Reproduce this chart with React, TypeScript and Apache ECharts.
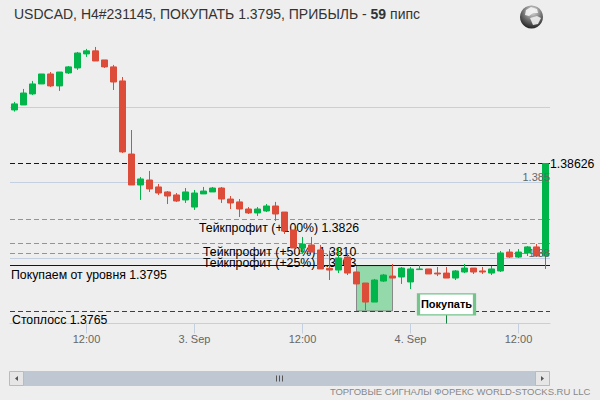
import React, { useEffect, useRef } from "react";
import * as echarts from "echarts";

const hours = Array.from({ length: 60 }, (_, i) => String(i));
const tickLabels: Record<number, string> = { 8: "12:00", 20: "3. Sep", 32: "12:00", 44: "4. Sep", 56: "12:00" };

const opens = [1.38981,1.39014,1.39087,1.39153,1.39219,1.3914,1.39226,1.39259,1.39352,1.39372,1.39312,1.39266,1.39173,1.38689,1.38484,1.38517,1.38471,1.38438,1.38418,1.38385,1.38338,1.38425,1.38438,1.38464,1.38391,1.38372,1.38325,1.38299,1.38312,1.38345,1.38305,1.38186,1.38067,1.38087,1.38054,1.37932,1.37921,1.38007,1.37908,1.37835,1.37709,1.37848,1.37881,1.37875,1.37842,1.37924,1.37928,1.37901,1.37901,1.37868,1.37908,1.37934,1.37915,1.37901,1.37915,1.3804,1.38007,1.38034,1.38074,1.38014];
const closes = [1.39021,1.39093,1.39153,1.39219,1.3914,1.39232,1.39266,1.39358,1.39372,1.39305,1.39266,1.39166,1.38703,1.38484,1.38524,1.38458,1.38431,1.38411,1.38378,1.38438,1.38431,1.38444,1.38464,1.38391,1.38365,1.38325,1.38299,1.38325,1.38345,1.38292,1.38179,1.38067,1.38093,1.3804,1.37928,1.37921,1.38001,1.37901,1.37829,1.37709,1.37855,1.37888,1.37868,1.37934,1.37928,1.37928,1.37895,1.37895,1.37868,1.37915,1.37934,1.37908,1.37908,1.37928,1.38034,1.38007,1.3804,1.38074,1.38014,1.38626];
const lows = [1.3897,1.39014,1.3908,1.39153,1.39133,1.39107,1.39219,1.39246,1.39332,1.39305,1.39259,1.39113,1.38696,1.38484,1.38385,1.38438,1.38418,1.38358,1.38372,1.38365,1.38319,1.38425,1.38438,1.38365,1.38325,1.38272,1.38292,1.38279,1.38305,1.38246,1.3816,1.38067,1.38027,1.3804,1.37928,1.37855,1.37901,1.37888,1.37829,1.37656,1.37709,1.37842,1.37868,1.37829,1.37795,1.37924,1.37895,1.37881,1.37868,1.37855,1.37901,1.37895,1.37895,1.37888,1.37908,1.38001,1.38001,1.38014,1.38014,1.37928];
const highs = [1.39034,1.3912,1.39173,1.39219,1.39232,1.39232,1.39272,1.39365,1.39385,1.39398,1.39312,1.39279,1.39199,1.38848,1.38537,1.38577,1.38491,1.38444,1.38431,1.38464,1.38451,1.38471,1.38471,1.38471,1.38411,1.38391,1.38338,1.38338,1.38358,1.38372,1.38305,1.38186,1.3814,1.3814,1.38087,1.3805,1.38067,1.38034,1.37908,1.37835,1.37862,1.37895,1.37961,1.37941,1.37941,1.37954,1.37928,1.37941,1.37941,1.37921,1.37961,1.37934,1.37941,1.37948,1.38047,1.3806,1.3806,1.3808,1.38093,1.38626];

const currentPrice = 1.38626;
const entryPrice = 1.3795;
const stopPrice = 1.3765;
const takeProfits = [
  { name: "Тейкпрофит (+100%) 1.3826", value: 1.3826, pad: 188 },
  { name: "Тейкпрофит (+50%) 1.3810", value: 1.381, pad: 192 },
  { name: "Тейкпрофит (+25%) 1.3803", value: 1.3803, pad: 192 },
];
const axisMin = 1.37567;
const axisMax = 1.39444;
const flagValue = 1.37693;
const FONT = "'Liberation Sans', Arial, sans-serif";
const BG = "#eeeeee";
const UP = "#00b64a";
const DOWN = "#dd4b39";
const GRID = "#c4d0df";

export default function App() {
  const ref = useRef<HTMLDivElement>(null);
  useEffect(() => {
    const chart = echarts.init(ref.current!, null, { renderer: "svg" });
    const candles = hours.map((_, i) => [opens[i], closes[i], lows[i], highs[i]]);
    const noteLabel = (text: string, pad: number) => ({
      show: true,
      position: "insideStartBottom",
      distance: [1, 3],
      formatter: text,
      color: "#000",
      fontFamily: FONT,
      fontSize: 12.3,
      padding: [0, 0, 0, pad],
    });
    const tpLines = takeProfits.map((t) => ({
      yAxis: t.value,
      lineStyle: { color: "#7ab81e", type: [5, 3], width: 1 },
      label: noteLabel(t.name, t.pad),
    }));
    chart.setOption({
      animation: false,
      backgroundColor: BG,
      textStyle: { fontFamily: FONT },
      title: {
        left: 9,
        top: 2,
        text: "USDCAD, H4#231145, ПОКУПАТЬ 1.3795, ПРИБЫЛЬ - {b|59} пипс",
        textStyle: {
          fontFamily: FONT,
          fontSize: 14,
          fontWeight: "normal",
          color: "#333",
          rich: { b: { fontFamily: FONT, fontSize: 14, fontWeight: "bold", color: "#333" } },
        },
      },
      grid: { left: 10, right: 50, top: 40, bottom: 76.5, containLabel: false },
      xAxis: {
        type: "category",
        data: hours,
        boundaryGap: true,
        axisLine: { lineStyle: { color: GRID, width: 1 } },
        axisTick: {
          show: true,
          length: 10,
          alignWithLabel: true,
          interval: (i: number) => tickLabels[i] !== undefined,
          lineStyle: { color: GRID },
        },
        axisLabel: {
          interval: (i: number) => tickLabels[i] !== undefined,
          formatter: (_: string, i: number) => tickLabels[i] ?? "",
          color: "#666",
          fontSize: 11,
          fontFamily: FONT,
          margin: 10,
          hideOverlap: false,
        },
        splitLine: { show: false },
      },
      yAxis: [
        {
          type: "value",
          min: axisMin,
          max: axisMax,
          splitNumber: 3,
          position: "right",
          axisLine: { show: false },
          axisTick: { show: false },
          axisLabel: { show: false },
          splitLine: { show: true, showMinLine: false, showMaxLine: false, lineStyle: { color: GRID, width: 1 } },
        },
        {
          type: "value",
          min: axisMin,
          max: axisMax,
          splitNumber: 3,
          position: "right",
          z: 10,
          axisLine: { show: false },
          axisTick: { show: false },
          splitLine: { show: false },
          axisLabel: {
            inside: true,
            margin: 0,
            showMinLabel: false,
            showMaxLabel: false,
            verticalAlign: "bottom",
            color: "#666",
            fontSize: 11,
            fontFamily: FONT,
            formatter: (v: number) => (v < 1.387 ? String(Math.round(v * 1000) / 1000) : ""),
          },
        },
      ],
      series: [
        {
          type: "line",
          z: 1,
          silent: true,
          data: [],
          markArea: {
            silent: true,
            itemStyle: { color: "#93d9a9", borderColor: "#888", borderWidth: 1 },
            data: [[{ xAxis: 38, yAxis: entryPrice }, { xAxis: 42, yAxis: stopPrice }]],
          },
          markLine: {
            silent: true,
            symbol: "none",
            precision: 5,
            data: [
              ...tpLines,
              {
                yAxis: currentPrice,
                lineStyle: { color: "#0000cc", type: [5, 3], width: 1 },
                label: {
                  show: true,
                  position: "end",
                  distance: 0,
                  formatter: "1.38626",
                  color: "#000",
                  fontSize: 12.3,
                  fontFamily: FONT,
                },
              },
              {
                yAxis: entryPrice,
                lineStyle: { color: "#0000c0", type: "solid", width: 1 },
                label: noteLabel("Покупаем от уровня 1.3795", 0),
              },
              {
                yAxis: stopPrice,
                lineStyle: { color: "#d40000", type: [5, 3], width: 1 },
                label: noteLabel("Стоплосс 1.3765", 1),
              },
              [
                { coord: [48, flagValue], lineStyle: { color: "#14803f", type: "solid", width: 1 }, label: { show: false } },
                { coord: [48, axisMin] },
              ],
            ],
          },
        },
        {
          type: "candlestick",
          z: 5,
          barWidth: 6,
          data: candles,
          itemStyle: { color: UP, color0: DOWN, borderColor: UP, borderColor0: DOWN, borderWidth: 1 },
          markPoint: {
            silent: true,
            z: 8,
            data: [
              {
                coord: [48, flagValue],
                symbol: "rect",
                symbolSize: [56, 21],
                itemStyle: { color: "#fff", borderColor: "#74c48c", borderWidth: 2 },
                label: {
                  show: true,
                  position: "inside",
                  formatter: "Покупать",
                  color: "#000",
                  fontWeight: "bold",
                  fontSize: 11,
                  fontFamily: FONT,
                },
              },
            ],
          },
        },
      ],
      graphic: [
        { type: "rect", z: 20, shape: { x: 10, y: 324, width: 76, height: 3 }, style: { fill: BG } },
        { type: "rect", z: 20, shape: { x: 87.5, y: 324, width: 24, height: 3 }, style: { fill: BG } },
        { type: "rect", shape: { x: 10, y: 371, width: 539.5, height: 15 }, style: { fill: "#bec7d2" } },
        { type: "rect", shape: { x: 9.5, y: 371.5, width: 14, height: 14 }, style: { fill: "#e6e6e6", stroke: "#bbbbbb", lineWidth: 1 } },
        { type: "rect", shape: { x: 535.5, y: 371.5, width: 14, height: 14 }, style: { fill: "#e6e6e6", stroke: "#bbbbbb", lineWidth: 1 } },
        { type: "polygon", shape: { points: [[18, 376], [18, 381], [15, 378.5]] }, style: { fill: "#555" } },
        { type: "polygon", shape: { points: [[541, 376], [541, 381], [544, 378.5]] }, style: { fill: "#555" } },
        { type: "line", shape: { x1: 276.5, y1: 375.5, x2: 276.5, y2: 381.5 }, style: { stroke: "#555", lineWidth: 1 } },
        { type: "line", shape: { x1: 279.5, y1: 375.5, x2: 279.5, y2: 381.5 }, style: { stroke: "#555", lineWidth: 1 } },
        { type: "line", shape: { x1: 282.5, y1: 375.5, x2: 282.5, y2: 381.5 }, style: { stroke: "#555", lineWidth: 1 } },
        {
          type: "text",
          x: 330,
          y: 391,
          style: { text: "ТОРГОВЫЕ СИГНАЛЫ ФОРЕКС WORLD-STOCKS.RU LLC", fill: "#888", font: `9.5px ${FONT}`, textVerticalAlign: "middle" },
        },
        {
          type: "circle",
          shape: { cx: 531.5, cy: 17, r: 11.5 },
          style: {
            fill: new echarts.graphic.RadialGradient(0.55, 0.25, 0.85, [
              { offset: 0, color: "#e8e8e8" },
              { offset: 0.45, color: "#7a7a7a" },
              { offset: 0.85, color: "#2a2a2a" },
              { offset: 1, color: "#111111" },
            ]),
          },
        },
        { type: "polygon", shape: { points: [[526, 10], [531, 7], [537, 9], [538, 13], [533, 13], [529, 16], [525, 15]] }, style: { fill: "#f4f4f4", opacity: 0.9 } },
        { type: "polygon", shape: { points: [[530, 18], [537, 16], [541, 18], [538, 24], [533, 25]] }, style: { fill: "#f0f0f0", opacity: 0.9 } },
      ],
    });
    return () => chart.dispose();
  }, []);
  return <div ref={ref} style={{ width: 600, height: 400, position: "fixed", left: 0, top: 0 }} />;
}
